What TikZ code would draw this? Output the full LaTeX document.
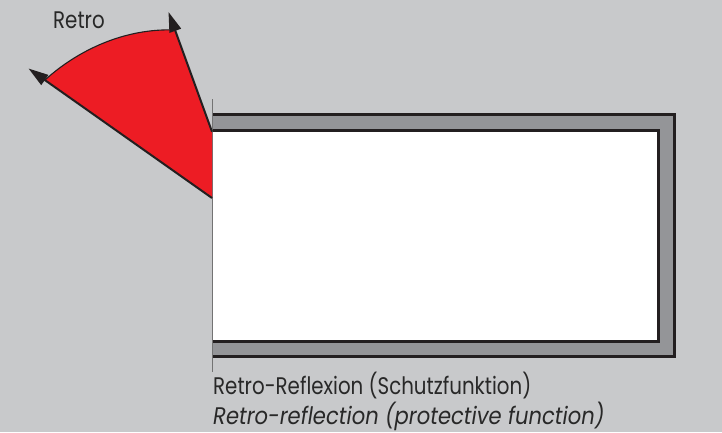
\documentclass[tikz,border=0pt]{standalone}
\usepackage{fontspec}
\setmainfont{Poppins}[FakeStretch=0.825, ItalicFeatures={FakeStretch=0.88}]
\usetikzlibrary{arrows.meta}
\definecolor{bgGray}{RGB}{200,201,203}
\definecolor{frameGray}{RGB}{148,149,152}
\definecolor{edgeDark}{RGB}{35,31,32}
\definecolor{wedgeRed}{RGB}{237,28,36}
\definecolor{textDark}{RGB}{40,40,40}

\begin{document}
\begin{tikzpicture}[
    x=1pt, y=-1pt,
    edge/.style={draw=edgeDark, line width=2.7pt},
    guide/.style={draw=black!55, line width=0.9pt},
    ray/.style={draw=edgeDark, line width=2pt, -{Triangle[length=20pt, width=12pt]}},
    rim/.style={draw=edgeDark, line width=1.1pt},
    caption/.style={anchor=base west, inner sep=0pt, font=\fontsize{24}{28}\selectfont, text=textDark}
]
\fill[bgGray] (0,0) rectangle (722,432);
\useasboundingbox (0,0) rectangle (722,432);

% frame, open on the left
\fill[frameGray] (212,114.7) rectangle (674.7,356.3);
\draw[edge] (212,114.7) -- (674.7,114.7) -- (674.7,356.3) -- (212,356.3);
\fill[white] (212,130.7) rectangle (658.7,341.3);
\draw[edge] (212,130.7) -- (658.7,130.7) -- (658.7,341.3) -- (212,341.3);
\draw[guide] (212.5,99) -- (212.5,372);

% red wedge
\coordinate (lowFoot) at (212,198);
\coordinate (highFoot) at (212,131.7);
\coordinate (leftEnd) at (45,80);
\coordinate (topEnd) at (175,30);
\coordinate (leftTip) at (28.5,68.5);
\coordinate (topTip) at (168.5,12);
\fill[wedgeRed] (lowFoot) -- (leftEnd) .. controls (78,50) and (125,28) .. (topEnd) -- (highFoot) -- cycle;
\draw[rim] (leftEnd) .. controls (78,50) and (125,28) .. (topEnd);
\draw[ray] (lowFoot) -- (leftTip);
\draw[ray] (highFoot) -- (topTip);

% texts
\node[caption] (retro) at (53,28) {Retro};
\node[caption] (capDe) at (213,394) {Retro-Reflexion (Schutzfunktion)};
\node[caption, font=\fontsize{24}{28}\selectfont\itshape] (capEn) at (213,424.5) {Retro-reflection (protective function)};
\end{tikzpicture}
\end{document}
